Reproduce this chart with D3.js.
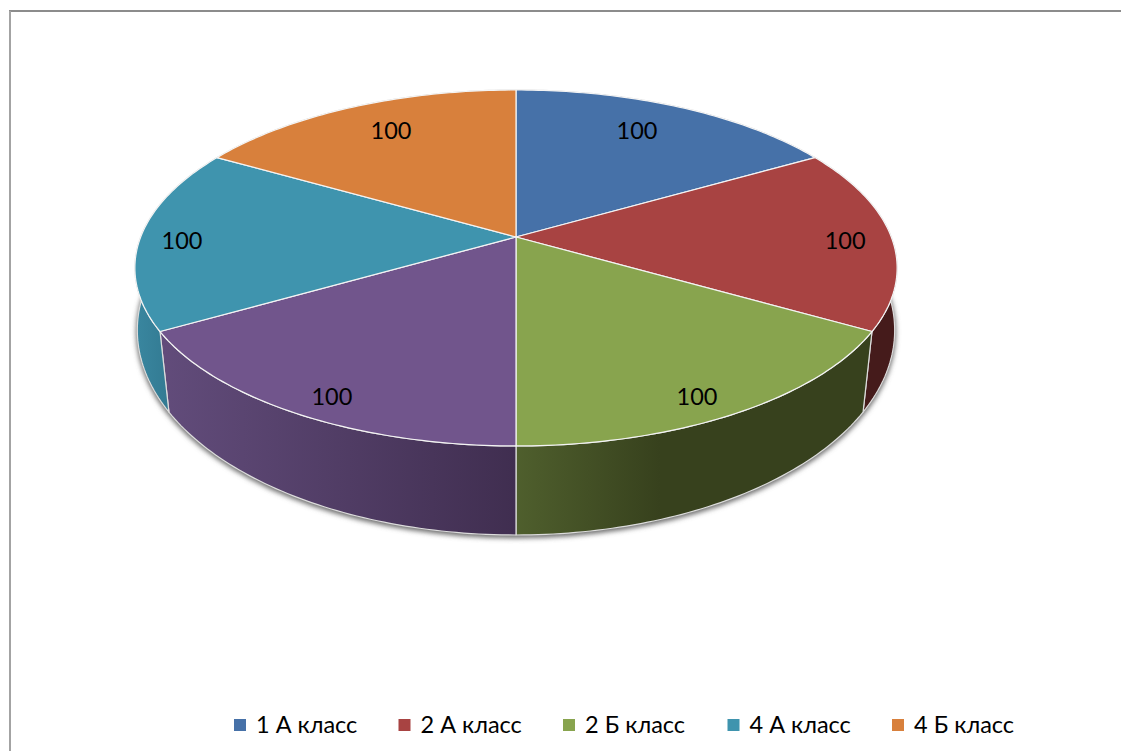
<!DOCTYPE html>
<html>
<head>
<meta charset="utf-8">
<script src="https://cdn.jsdelivr.net/npm/d3@7"></script>
<style>
html,body{margin:0;padding:0;background:#fff;overflow:hidden}
svg{display:block}
text{font-family:"Lato","Open Sans",sans-serif;fill:#000}
</style>
</head>
<body>
<svg id="chart" width="1121" height="751"></svg>
<script>
// data
var legendNames = ["1 А класс","2 А класс","2 Б класс","4 А класс","4 Б класс"];
var sliceValues = [100,100,100,100,100,100];
var sliceColors = ["#4671a8","#a84342","#88a44e","#71558c","#3f94ae","#d8803c"];
var legendColors = ["#4671a8","#a84342","#88a44e","#3f94ae","#d8803c"];
// how far out each value label sits, and its small vertical nudge
var labelRadius = [0.714,0.877,0.842,0.855,0.89,0.74];
var labelNudge = [-10.4,4,15,12.4,4,-6.5];

var svg = d3.select("#chart");
var defs = svg.append("defs");

// the pie is a tilted circle, so top and bottom discs are projected with perspective
var topDisc = {x:516,y:237,rx:375.3,ry:172.6,q:0.174};
var bottomDisc = {x:516,y:304.6,rx:375.7,ry:201.6,q:0.125};

var project = function(disc,angle,r)
{
    var u = Math.sin(angle)*r;
    var v = -Math.cos(angle)*r;
    var w = 1-disc.q*v;
    return [disc.x+disc.rx*u/w, disc.y+disc.ry*v/w];
}

var rim = function(disc,a0,a1)
{
    return d3.range(0,61).map(function(i)
    {
        return project(disc,a0+(a1-a0)*i/60,1);
    });
}

var line = d3.line();

var pie = d3.pie().sort(null)(sliceValues);

// frame
svg.append("line").attr("x1",9).attr("y1",11).attr("x2",1121).attr("y2",11)
    .attr("stroke","#8c8c8c").attr("stroke-width",2);
svg.append("line").attr("x1",10).attr("y1",11).attr("x2",10).attr("y2",751)
    .attr("stroke","#a3a3a3").attr("stroke-width",2);

// side shading
var addGradient = function(id,x1,x2,stops)
{
    var g = defs.append("linearGradient").attr("id",id)
        .attr("gradientUnits","userSpaceOnUse")
        .attr("x1",x1).attr("x2",x2).attr("y1",0).attr("y2",0);
    stops.forEach(function(s)
    {
        g.append("stop").attr("offset",s[0]).attr("stop-color",s[1]);
    });
}
addGradient("sideGreen",516,660,[[0,"#4f5f2d"],[1,"#37411d"]]);
addGradient("sidePurple",159,516,[[0,"#624c7b"],[1,"#402e50"]]);
addGradient("sideTeal",134,167,[[0,"#3a87a0"],[1,"#337b93"]]);
var sideFill = ["#2b4468","#451b1b","url(#sideGreen)","url(#sidePurple)","url(#sideTeal)","#8a5026"];

// soft shadow under the body
var blur = defs.append("filter").attr("id","soft")
    .attr("x","-10%").attr("y","-10%").attr("width","120%").attr("height","120%");
blur.append("feGaussianBlur").attr("stdDeviation",2.4);

svg.append("path")
    .attr("d",line(rim(bottomDisc,Math.PI*0.4,Math.PI*1.6))+"Z")
    .attr("fill","#6e6e6e")
    .attr("stroke","#6e6e6e")
    .attr("stroke-width",2.5)
    .attr("filter","url(#soft)")
    .attr("transform","translate(0,2)");

// sides first, the top faces paint over anything hidden
svg.append("g").selectAll("path")
    .data(pie)
    .enter()
    .append("path")
    .attr("d",function(d)
    {
        return line(rim(topDisc,d.startAngle,d.endAngle)
            .concat(rim(bottomDisc,d.endAngle,d.startAngle)))+"Z";
    })
    .attr("fill",function(d,i){ return sideFill[i]; })
    .attr("stroke","#dcdcdc")
    .attr("stroke-width",1.2)
    .attr("stroke-linejoin","round");

svg.append("g").selectAll("path")
    .data(pie)
    .enter()
    .append("path")
    .attr("d",function(d)
    {
        var apex = project(topDisc,0,0);
        return line([apex].concat(rim(topDisc,d.startAngle,d.endAngle)))+"Z";
    })
    .attr("fill",function(d,i){ return sliceColors[i]; })
    .attr("stroke","#f4f4f4")
    .attr("stroke-width",1.2)
    .attr("stroke-linejoin","round");

// value labels
svg.append("g").selectAll("text")
    .data(pie)
    .enter()
    .append("text")
    .attr("text-anchor","middle")
    .attr("font-size",23.5)
    .attr("dy","0.36em")
    .attr("x",function(d,i)
    {
        return project(topDisc,(d.startAngle+d.endAngle)/2,labelRadius[i])[0];
    })
    .attr("y",function(d,i)
    {
        return project(topDisc,(d.startAngle+d.endAngle)/2,labelRadius[i])[1]+labelNudge[i];
    })
    .text(function(d){ return d.value; });

// legend
var legendX = d3.scaleLinear().domain([0,4]).range([234,892]);
var legend = svg.append("g").selectAll("g")
    .data(legendNames)
    .enter()
    .append("g")
    .attr("transform",function(d,i){ return "translate("+legendX(i)+",719)"; });
legend.append("rect")
    .attr("width",12).attr("height",12)
    .attr("fill",function(d,i){ return legendColors[i]; });
legend.append("text")
    .attr("x",22)
    .attr("y",14)
    .attr("font-size",23.5)
    .text(function(d){ return d; });
</script>
</body>
</html>
